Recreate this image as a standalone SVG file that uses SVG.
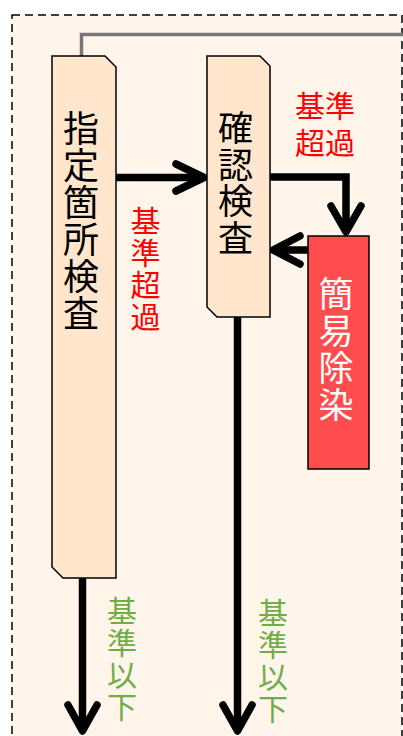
<svg xmlns="http://www.w3.org/2000/svg" width="403" height="736" viewBox="0 0 403 736">
<style>
.node{fill:#FFE6CC;stroke:#000;stroke-width:1.5}
.t{font-family:"Noto Sans CJK JP","Noto Sans CJK SC",sans-serif;text-anchor:middle}
.lbl{font-family:"Noto Sans CJK JP","Noto Sans CJK SC",sans-serif;font-size:30px}
.ln{fill:none;stroke:#000;stroke-width:7.5}
.hd{fill:none;stroke:#000;stroke-width:7.5;stroke-linecap:round;stroke-linejoin:round}
</style>
<rect x="0" y="0" width="403" height="736" fill="#FFFFFF"/>
<rect x="12" y="15" width="390" height="730" fill="#FFF5EB" stroke="#000" stroke-width="1.5" stroke-dasharray="8,5"/>
<g id="connectors">
<polyline points="403,34.5 81.5,34.5 81.5,70" fill="none" stroke="#777777" stroke-width="3.5"/>
<polygon points="81.5,66 89,73 81.5,80 74,73" fill="#777777"/>
<line class="ln" x1="116" y1="177.5" x2="203" y2="177.5"/>
<polyline class="hd" points="176,164 204,177.5 176,191"/>
<polyline class="ln" points="270,177 346,177 346,232"/>
<polyline class="hd" points="331,206 346,232 361,206"/>
<line class="ln" x1="308" y1="250" x2="274" y2="250"/>
<polyline class="hd" points="300,236 273,250 300,264"/>
<line class="ln" x1="82.5" y1="578" x2="82.5" y2="731"/>
<polyline class="hd" points="68,705 82.5,731 97,705"/>
<line class="ln" x1="237.5" y1="317" x2="237.5" y2="731"/>
<polyline class="hd" points="223,705 237.5,731 252,705"/>
</g>
<g id="node1">
<polygon class="node" points="52,56 105,56 116,67 116,578 63,578 52,567"/>
<text class="t" font-size="36" fill="#000"><tspan x="81" y="142">指</tspan><tspan x="81" y="179">定</tspan><tspan x="81" y="216">箇</tspan><tspan x="81" y="253">所</tspan><tspan x="81" y="290">検</tspan><tspan x="81" y="327">査</tspan></text>
</g>
<g id="node2">
<polygon class="node" points="207,56 260,56 270,66 270,317 217,317 207,307"/>
<text class="t" font-size="35" fill="#000"><tspan x="235.5" y="141">確</tspan><tspan x="235.5" y="178">認</tspan><tspan x="235.5" y="214">検</tspan><tspan x="235.5" y="251">査</tspan></text>
</g>
<g id="node3">
<rect x="308" y="236" width="61" height="233" fill="#FF4D4D" stroke="#000" stroke-width="1.5"/>
<text class="t" font-size="35" fill="#FFFFFF"><tspan x="336" y="307">簡</tspan><tspan x="336" y="344">易</tspan><tspan x="336" y="381">除</tspan><tspan x="336" y="418">染</tspan></text>
</g>
<g id="labels">
<text class="lbl" fill="#FF0000"><tspan x="295" y="117">基準</tspan><tspan x="295" y="154">超過</tspan></text>
<text class="t" font-size="30" fill="#FF0000"><tspan x="145.5" y="232">基</tspan><tspan x="145.5" y="264">準</tspan><tspan x="145.5" y="296">超</tspan><tspan x="145.5" y="328">過</tspan></text>
<text class="t" font-size="30" fill="#70AD47"><tspan x="122" y="622">基</tspan><tspan x="122" y="654">準</tspan><tspan x="122" y="686">以</tspan><tspan x="122" y="718">下</tspan></text>
<text class="t" font-size="30" fill="#70AD47"><tspan x="273" y="624">基</tspan><tspan x="273" y="656">準</tspan><tspan x="273" y="688">以</tspan><tspan x="273" y="720">下</tspan></text>
</g>
</svg>
